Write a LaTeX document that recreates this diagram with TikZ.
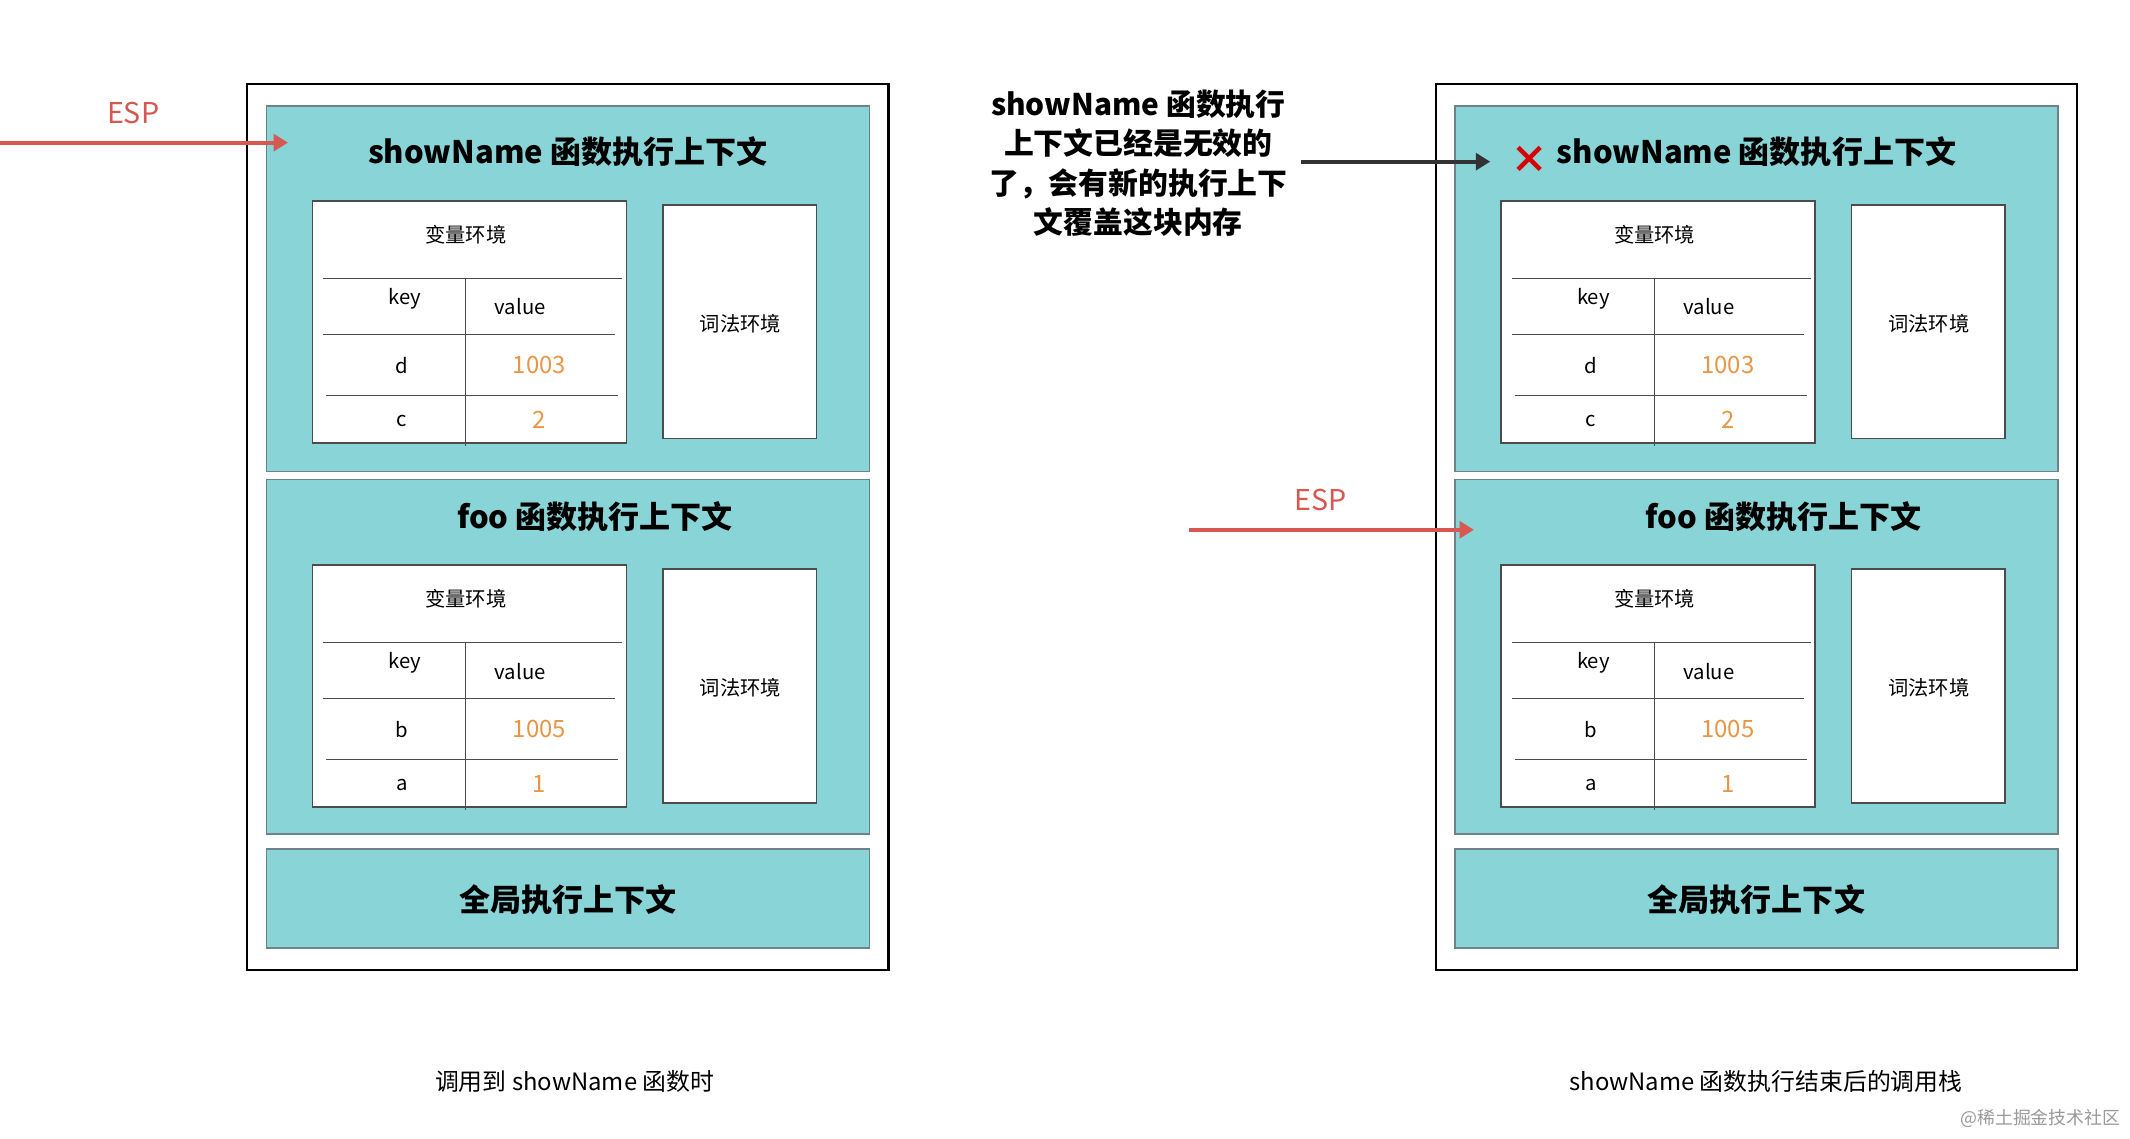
\documentclass[tikz,border=0pt]{standalone}
\usepackage{fontspec}
\setmainfont{Noto Sans CJK SC}
\usetikzlibrary{arrows.meta}
\definecolor{ctxfill}{RGB}{136,212,214}
\definecolor{ctxline}{RGB}{110,130,135}
\definecolor{espred}{RGB}{214,88,80}
\definecolor{valorange}{RGB}{232,150,70}
\tikzset{
  ctx/.style={draw=ctxline, fill=ctxfill, line width=0.6pt},
  tbox/.style={draw=black!70, fill=white, line width=0.6pt},
  title/.style={font=\fontsize{13}{15}\selectfont\bfseries},
  small/.style={font=\fontsize{8.5}{10}\selectfont},
  val/.style={font=\fontsize{10}{12}\selectfont, text=valorange},
  esp/.style={draw=espred, line width=1.6pt, -{Triangle[length=6pt,width=7pt]}},
}
\begin{document}
\begin{tikzpicture}[x=0.02cm, y=-0.02cm]
\useasboundingbox (0,0) rectangle (1568,838);
% two call stacks
\foreach \p/\dx in {L/0, R/875} {
  \begin{scope}[xshift=\dx*0.02cm]
    \draw[line width=1pt] (182,62) rectangle (654,714);
    \draw[ctx] (196,78) rectangle (640,347);
    \draw[ctx] (196,353) rectangle (640,614);
    \draw[ctx] (196,625) rectangle (640,698);
    \node[title] (\p-t3) at (418,662) {全局执行上下文};
    \foreach \k/\dy/\a/\va/\b/\vb in {1/0/d/1003/c/2, 2/268/b/1005/a/1} {
      \begin{scope}[yshift=-\dy*0.02cm]
        \draw[tbox] (230,148) rectangle (461,326);
        \draw[tbox] (488,151) rectangle (601,323);
        \node[small] (\p-var\k) at (343,173) {变量环境};
        \node[small] (\p-lex\k) at (545,238) {词法环境};
        \draw[black!70] (238,205) -- (458,205) (238,246) -- (453,246)
          (240,291) -- (455,291) (343,205) -- (343,328);
        \node[small] (\p-key\k) at (298,220) {key};
        \node[small] (\p-value\k) at (383,226) {value};
        \node[small] (\p-k\k a) at (296,269) {\a};
        \node[val] (\p-v\k a) at (397,269) {\va};
        \node[small] (\p-k\k b) at (296,310) {\b};
        \node[val] (\p-v\k b) at (397,309) {\vb};
      \end{scope}
    }
  \end{scope}
}
\node[title] (L-t1) at (418,112) {showName 函数执行上下文};
\node[title] (L-t2) at (438,380) {foo 函数执行上下文};
\node[title] (R-t1) at (1293,112) {showName 函数执行上下文};
\node[title] (R-t2) at (1313,380) {foo 函数执行上下文};
\node[text=red!85!black, font=\fontsize{16}{16}\selectfont\bfseries] (R-x) at (1126,118) {×};
% ESP pointers
\node[text=espred, font=\fontsize{12}{14}\selectfont] (L-esp) at (98,83) {ESP};
\coordinate (L-espa) at (0,105);
\coordinate (L-espb) at (212,105);
\draw[esp] (L-espa) -- (L-espb);
\node[text=espred, font=\fontsize{12}{14}\selectfont] (R-esp) at (972,368) {ESP};
\coordinate (R-espa) at (875,390);
\coordinate (R-espb) at (1085,390);
\draw[esp] (R-espa) -- (R-espb);
% note
\node[font=\fontsize{12.5}{16.5}\selectfont\bfseries, align=center] (note) at (838,120)
  {showName 函数执行\\上下文已经是无效的\\了，会有新的执行上下\\文覆盖这块内存};
\coordinate (note-a) at (958,119);
\coordinate (note-b) at (1097,119);
\draw[black!80, line width=1.6pt, -{Triangle[length=6pt,width=7pt]}] (note-a) -- (note-b);
% captions
\node[font=\fontsize{10}{12}\selectfont] (L-cap) at (423,796) {调用到 showName 函数时};
\node[font=\fontsize{10}{12}\selectfont] (R-cap) at (1300,796) {showName 函数执行结束后的调用栈};
\node[font=\fontsize{7.5}{9}\selectfont, text=black!40] (mark) at (1502,823) {@稀土掘金技术社区};
\end{tikzpicture}
\end{document}
